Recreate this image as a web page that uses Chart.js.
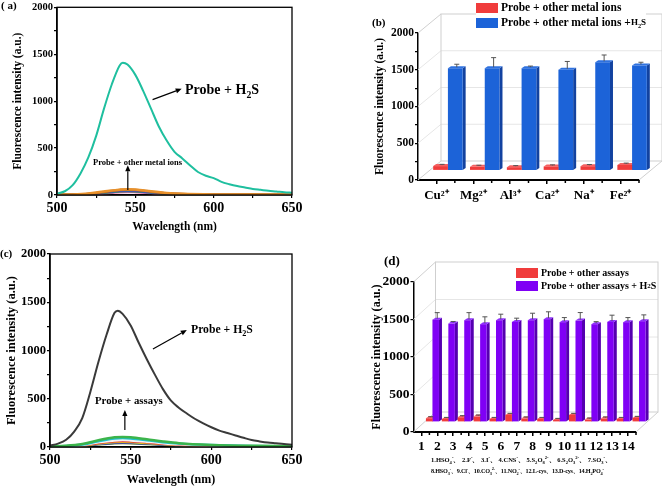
<!DOCTYPE html>
<html>
<head>
<meta charset="utf-8">
<script src="https://cdn.jsdelivr.net/npm/chart.js@4.4.0/dist/chart.umd.min.js"></script>
<style>
body { margin: 0; background: #fff; }
#fig { position: relative; width: 662px; height: 487px; overflow: hidden;
  font-family: 'Liberation Serif', 'Times New Roman', serif; font-weight: bold; color: #000; }
#fig canvas { position: absolute; }
.note { position: absolute; white-space: nowrap; line-height: 1; }
.legend { position: absolute; background: #fff; white-space: nowrap; line-height: 1; }
.legend .row { display: flex; align-items: center; }
.sw { display: inline-block; width: 22px; margin-right: 3px; }
sub, sup { font-size: 70%; line-height: 0; }
</style>
</head>
<body>
<div id="fig">
  <canvas id="chartA" width="331" height="243" style="left:0;top:0"></canvas>
  <canvas id="chartB" width="331" height="243" style="left:331px;top:0"></canvas>
  <canvas id="chartC" width="331" height="244" style="left:0;top:243px"></canvas>
  <canvas id="chartD" width="331" height="244" style="left:331px;top:243px"></canvas>

  <div class="note" style="left:1px;top:0px;font-size:11px">( a)</div>
  <div class="note" style="left:372px;top:17px;font-size:11px">(b)</div>
  <div class="note" style="left:0px;top:248px;font-size:11px">(c)</div>
  <div class="note" style="left:384px;top:254px;font-size:13px">(d)</div>

  <div class="note" style="left:185px;top:83px;font-size:14px">Probe + H<sub>2</sub>S</div>
  <div class="note" style="left:93px;top:158px;font-size:8.5px">Probe + other metal ions</div>
  <div class="note" style="left:191px;top:324px;font-size:11.7px">Probe + H<sub>2</sub>S</div>
  <div class="note" style="left:95px;top:395px;font-size:10.8px">Probe + assays</div>

  <div class="legend" style="left:476px;top:1px;font-size:11.5px">
    <div class="row" style="height:14px"><span class="sw" style="height:10px;background:#f03c3c"></span>Probe + other metal ions</div>
    <div class="row" style="height:15px"><span class="sw" style="height:10px;background:#1c63d8"></span>Probe + other metal ions + <span style="font-size:9px">H<sub>2</sub>S</span></div>
  </div>
  <div class="legend" style="left:516px;top:266px;font-size:10px">
    <div class="row" style="height:13px"><span class="sw" style="height:10px;background:#f03c3c"></span>Probe + other assays</div>
    <div class="row" style="height:13px"><span class="sw" style="height:10px;background:#7f00f5"></span>Probe + other assays + H<sub>2</sub>S</div>
  </div>

  <div class="note" style="left:431px;top:457px;font-size:6.5px">1.HSO<sub>4</sub><sup>-</sup>、 2.F<sup>-</sup>、 3.I<sup>-</sup>、 4.CNS<sup>-</sup>、 5.S<sub>2</sub>O<sub>8</sub><sup>2-</sup>、 6.S<sub>2</sub>O<sub>3</sub><sup>2-</sup>、 7.SO<sub>3</sub><sup>-</sup>、</div>
  <div class="note" style="left:431px;top:468px;font-size:6.2px;letter-spacing:-0.2px">8.HSO<sub>3</sub><sup>-</sup>、9.Cl<sup>-</sup>、10.CO<sub>3</sub><sup>2-</sup>、11.NO<sub>2</sub><sup>-</sup>、12.L-cys、13.D-cys、14.H<sub>2</sub>PO<sub>4</sub><sup>-</sup></div>
</div>

<script>
// ---- data ----
var wavelengths = [500,505,510,515,520,525,530,535,540,542,545,550,555,560,565,570,575,580,585,590,595,600,605,610,615,620,625,630,635,640,645,650];
var h2sA = [15,40,105,230,400,630,920,1180,1380,1410,1390,1280,1110,920,730,580,460,390,315,245,205,180,140,115,95,80,65,55,45,38,30,25];
var h2sC = [15,35,75,160,300,570,880,1160,1390,1413,1380,1260,1080,910,750,600,480,405,345,290,245,205,170,145,120,95,72,58,46,38,30,24];

var smallNm = [500,510,520,530,540,545,550,560,570,580,600,625,650];
var metalCurves = [
  [4,6,15,38,57,62,58,40,22,12,6,5,4],
  [3,5,12,32,52,56,52,35,19,10,5,4,3],
  [2,4,10,28,45,48,45,30,16,8,4,3,2],
  [2,3,9,25,40,43,40,27,14,7,4,3,2],
  [1,3,8,22,36,39,36,24,12,6,3,2,1],
  [1,2,6,18,30,33,30,20,10,5,3,2,1]
];
var metalColors = ['#e8902a', '#b5651d', '#3050d0', '#40a040', '#9040c0', '#f080b0'];
var assayCurves = [
  [8,12,30,70,100,104,100,80,58,40,22,12,8],
  [6,10,25,60,88,92,88,70,50,35,20,10,6],
  [4,8,20,48,68,72,68,55,40,28,15,8,5],
  [4,7,18,42,60,62,60,48,34,24,13,7,4],
  [3,6,15,36,52,55,52,42,30,20,11,6,3],
  [3,5,12,30,45,47,45,36,26,18,10,5,3],
  [3,5,12,28,40,42,40,32,22,15,8,5,3]
];
var assayColors = ['#3cb44b', '#20c0d0', '#f4f4f4', '#e03030', '#e0d020', '#3040c0', '#6a8a30'];

var metalIons = ['Cu²⁺', 'Mg²⁺', 'Al³⁺', 'Ca²⁺', 'Na⁺', 'Fe²⁺'];
var metalOnly = [60, 50, 45, 55, 58, 75];
var metalOnlyErr = [10, 8, 8, 8, 10, 12];
var metalH2S = [1392, 1392, 1392, 1370, 1473, 1429];
var metalH2SErr = [40, 130, 15, 100, 85, 30];

var assayLabels = ['1','2','3','4','5','6','7','8','9','10','11','12','13','14'];
var assayOnly = [50, 40, 63, 72, 40, 94, 46, 40, 27, 94, 32, 46, 40, 54];
var assayOnlyErr = [8, 8, 8, 8, 8, 8, 8, 8, 8, 8, 8, 8, 8, 8];
var assayH2S = [1365, 1312, 1357, 1304, 1357, 1335, 1357, 1371, 1331, 1352, 1304, 1335, 1331, 1344];
var assayH2SErr = [80, 15, 88, 85, 67, 36, 80, 85, 48, 94, 21, 76, 48, 71];

Chart.defaults.font.family = "'Liberation Serif', 'Times New Roman', serif";
Chart.defaults.font.weight = 'bold';
Chart.defaults.color = '#000';
Chart.defaults.animation = false;

var pts = function(xs, ys) {
  return ys.map(function(v, i) { return {x: xs[i], y: v}; });
};

var drawArrow = function(ctx, x0, y0, x1, y1) {
  var ang = Math.atan2(y1 - y0, x1 - x0), hl = 6, hw = 2.6;
  ctx.beginPath();
  ctx.moveTo(x0, y0);
  ctx.lineTo(x1 - Math.cos(ang) * hl, y1 - Math.sin(ang) * hl);
  ctx.stroke();
  ctx.beginPath();
  ctx.moveTo(x1, y1);
  ctx.lineTo(x1 - Math.cos(ang) * hl - Math.sin(ang) * hw, y1 - Math.sin(ang) * hl + Math.cos(ang) * hw);
  ctx.lineTo(x1 - Math.cos(ang) * hl + Math.sin(ang) * hw, y1 - Math.sin(ang) * hl - Math.cos(ang) * hw);
  ctx.closePath();
  ctx.fill();
};

// frame box + arrows for the spectra panels
var boxFrame = {
  id: 'boxFrame',
  afterDraw: function(chart, args, opts) {
    var a = chart.chartArea, ctx = chart.ctx;
    var sx = chart.scales.x, sy = chart.scales.y;
    ctx.save();
    ctx.strokeStyle = '#000';
    ctx.fillStyle = '#000';
    ctx.lineWidth = 1.3;
    ctx.strokeRect(a.left, a.top, a.right - a.left, a.bottom - a.top);
    ctx.lineWidth = 1.2;
    (opts.arrows || []).forEach(function(ar) {
      drawArrow(ctx, sx.getPixelForValue(ar[0]), sy.getPixelForValue(ar[1]),
        sx.getPixelForValue(ar[2]), sy.getPixelForValue(ar[3]));
    });
    ctx.restore();
  }
};

var poly = function(ctx, p) {
  ctx.beginPath();
  ctx.moveTo(p[0][0], p[0][1]);
  for (var i = 1; i < p.length; i++) ctx.lineTo(p[i][0], p[i][1]);
  ctx.closePath();
  ctx.fill();
};

var line = function(ctx, x0, y0, x1, y1) {
  ctx.beginPath();
  ctx.moveTo(x0, y0);
  ctx.lineTo(x1, y1);
  ctx.stroke();
};

// 3D box, bar faces and error bars for the bar panels
var bars3d = {
  id: 'bars3d',
  beforeDatasetsDraw: function(chart, args, o) {
    var a = chart.chartArea, ctx = chart.ctx, sy = chart.scales.y;
    var dx = o.dx, dy = o.dy;
    ctx.save();
    ctx.lineWidth = 1;
    ctx.strokeStyle = '#e6e6e6';
    [500, 1000, 1500].forEach(function(v) {
      var py = sy.getPixelForValue(v);
      line(ctx, a.left + dx, py + dy, a.right + dx, py + dy);
      line(ctx, a.left, py, a.left + dx, py + dy);
    });
    ctx.strokeStyle = '#cfcfcf';
    ctx.strokeRect(a.left + dx, a.top + dy, a.right - a.left, a.bottom - a.top);
    line(ctx, a.left, a.top, a.left + dx, a.top + dy);
    line(ctx, a.left, a.bottom, a.left + dx, a.bottom + dy);
    line(ctx, a.right, a.bottom, a.right + dx, a.bottom + dy);
    ctx.restore();

    ctx.save();
    ctx.translate(dx / 2, dy / 2);
    chart.data.datasets.forEach(function(ds, i) {
      chart.getDatasetMeta(i).data.forEach(function(bar) {
        var p = bar.getProps(['x', 'y', 'base', 'width'], true);
        var x0 = p.x - p.width / 2, x1 = p.x + p.width / 2;
        ctx.fillStyle = ds.sideColor;
        poly(ctx, [[x1, p.y], [x1 + o.ex, p.y + o.ey], [x1 + o.ex, p.base + o.ey], [x1, p.base]]);
        ctx.fillStyle = ds.topColor;
        poly(ctx, [[x0, p.y], [x1, p.y], [x1 + o.ex, p.y + o.ey], [x0 + o.ex, p.y + o.ey]]);
      });
    });
  },
  afterDatasetsDraw: function(chart, args, o) {
    var ctx = chart.ctx, sy = chart.scales.y;
    ctx.strokeStyle = '#555';
    ctx.lineWidth = 1;
    chart.data.datasets.forEach(function(ds, i) {
      chart.getDatasetMeta(i).data.forEach(function(bar, j) {
        var p = bar.getProps(['x', 'y'], true);
        var cx = p.x + o.ex / 2, top = sy.getPixelForValue(ds.data[j] + ds.err[j]) + o.ey / 2;
        var y0 = p.y + o.ey / 2;
        line(ctx, cx, y0, cx, top);
        line(ctx, cx - 2.5, top, cx + 2.5, top);
      });
    });
    ctx.restore();

    // extra tick marks at category boundaries
    var a = chart.chartArea, sx = chart.scales.x;
    var w = (a.right - a.left) / sx.ticks.length;
    ctx.save();
    ctx.strokeStyle = '#000';
    ctx.lineWidth = 1.5;
    for (var k = 1; k <= sx.ticks.length; k++) {
      line(ctx, a.left + k * w, a.bottom, a.left + k * w, a.bottom + 3);
    }
    ctx.restore();
  }
};

var yAxis = function(width, fontSize, titleSize, titlePad) {
  return {
    min: 0, max: 2000,
    afterFit: function(s) { s.width = width; },
    ticks: { stepSize: 250, padding: 1, font: {size: fontSize},
      callback: function(v) { return v % 500 === 0 ? v : ''; } },
    grid: { drawOnChartArea: false, tickLength: 3, color: '#000', lineWidth: 1.2 },
    border: { color: '#000', width: 1.5 },
    title: { display: true, text: 'Fluorescence intensity (a.u.)', font: {size: titleSize},
      padding: {top: titlePad, bottom: 0} }
  };
};

var xWave = function(height, fontSize, titleSize, titlePad) {
  return {
    type: 'linear', min: 500, max: 650,
    afterFit: function(s) { s.height = height; },
    ticks: { stepSize: 25, padding: 2, maxRotation: 0, font: {size: fontSize},
      callback: function(v) { return v % 50 === 0 ? v : ''; } },
    grid: { drawOnChartArea: false, tickLength: 3, color: '#000', lineWidth: 1.2 },
    border: { color: '#000', width: 1.5 },
    title: { display: true, text: 'Wavelength (nm)', font: {size: titleSize},
      padding: {top: 0, bottom: titlePad} }
  };
};

var spectrumSets = function(main, mainColor, curves, colors) {
  var sets = curves.map(function(c, i) {
    return { data: pts(smallNm, c), borderColor: colors[i], borderWidth: 2.5,
      pointRadius: 0, cubicInterpolationMode: 'monotone' };
  });
  sets.unshift({ data: pts(wavelengths, main), borderColor: mainColor, borderWidth: 2,
    pointRadius: 0, cubicInterpolationMode: 'monotone' });
  return sets;
};

new Chart(document.getElementById('chartA'), {
  type: 'line',
  data: { datasets: spectrumSets(h2sA, '#1fbf9f', metalCurves, metalColors) },
  options: {
    responsive: false,
    layout: { padding: {top: 6, right: 39, left: 0, bottom: 0} },
    plugins: { legend: {display: false}, tooltip: {enabled: false},
      boxFrame: { arrows: [[561, 1016, 579.6, 1132], [545.2, 53, 545.2, 317]] } },
    scales: { x: xWave(48, 14, 11.5, 9), y: yAxis(57, 10.5, 11.5, 11) }
  },
  plugins: [boxFrame]
});

new Chart(document.getElementById('chartC'), {
  type: 'line',
  data: { datasets: spectrumSets(h2sC, '#3a3a3a', assayCurves, assayColors) },
  options: {
    responsive: false,
    layout: { padding: {top: 11, right: 39, left: 0, bottom: 0} },
    plugins: { legend: {display: false}, tooltip: {enabled: false},
      boxFrame: { arrows: [[563.8, 1016, 584.8, 1212], [546.4, 176, 546.4, 383]] } },
    scales: { x: xWave(40, 14, 12, 0), y: yAxis(50, 12.5, 12.5, 4.5) }
  },
  plugins: [boxFrame]
});

var barX = function(labels, height, fontSize, pad) {
  return {
    type: 'category', labels: labels, offset: true,
    afterFit: function(s) { s.height = height; },
    ticks: { autoSkip: false, maxRotation: 0, padding: pad, font: {size: fontSize} },
    grid: { offset: false, drawOnChartArea: false, tickLength: 4, color: '#000', lineWidth: 1.5 },
    border: { color: '#000', width: 2 }
  };
};

new Chart(document.getElementById('chartB'), {
  type: 'bar',
  data: {
    labels: metalIons,
    datasets: [
      { data: metalOnly, err: metalOnlyErr, backgroundColor: '#f03c3c',
        sideColor: '#b82424', topColor: '#f46060' },
      { data: metalH2S, err: metalH2SErr, backgroundColor: '#1c63d8',
        sideColor: '#1242a0', topColor: '#2f72e0' }
    ]
  },
  options: {
    responsive: false,
    layout: { padding: {top: 33, right: 23, left: 0, bottom: 0} },
    datasets: { bar: { barPercentage: 1, categoryPercentage: 0.8, clip: false } },
    plugins: { legend: {display: false}, tooltip: {enabled: false},
      bars3d: { dx: 23, dy: -19, ex: 3, ey: -2 } },
    scales: { x: barX(metalIons, 63, 13, 4), y: yAxis(87, 11.5, 11.5, 42) }
  },
  plugins: [bars3d]
});

new Chart(document.getElementById('chartD'), {
  type: 'bar',
  data: {
    labels: assayLabels,
    datasets: [
      { data: assayOnly, err: assayOnlyErr, backgroundColor: '#f03c3c',
        sideColor: '#b82424', topColor: '#f46060' },
      { data: assayH2S, err: assayH2SErr, backgroundColor: '#7f00f5',
        sideColor: '#5500b0', topColor: '#9030ff' }
    ]
  },
  options: {
    responsive: false,
    layout: { padding: {top: 39, right: 26, left: 0, bottom: 0} },
    datasets: { bar: { barPercentage: 1, categoryPercentage: 0.82, clip: false } },
    plugins: { legend: {display: false}, tooltip: {enabled: false},
      bars3d: { dx: 22, dy: -20, ex: 3, ey: -2 } },
    scales: { x: barX(assayLabels, 55, 13.5, 2), y: yAxis(82.5, 13.5, 12.2, 38.7) }
  },
  plugins: [bars3d]
});
</script>
</body>
</html>
